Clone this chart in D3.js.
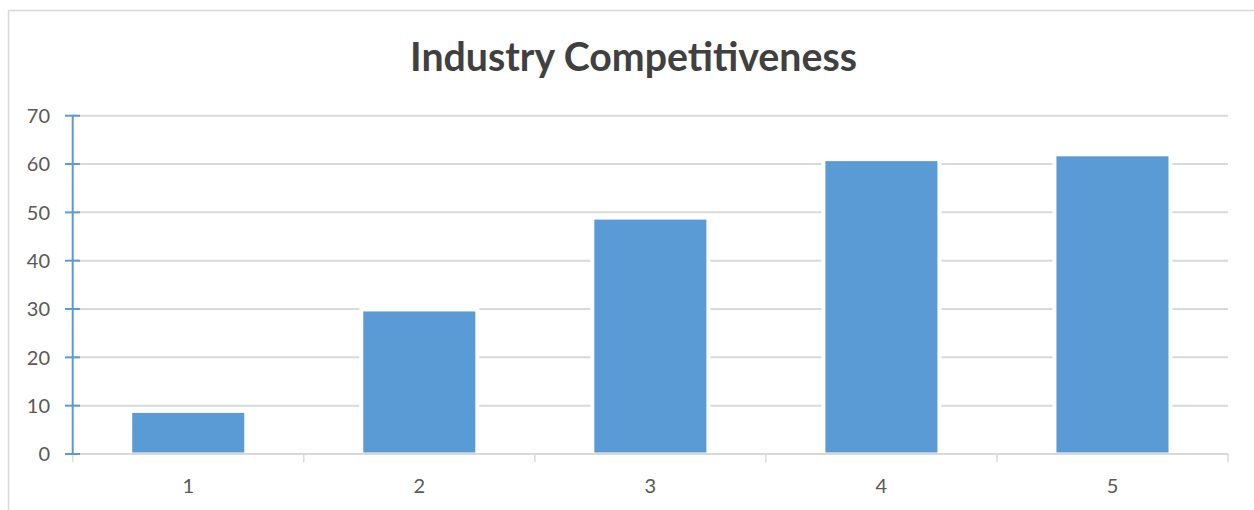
<!DOCTYPE html>
<html>
<head>
<meta charset="utf-8">
<script src="https://cdn.jsdelivr.net/npm/d3@7"></script>
<style>
  html, body { margin: 0; padding: 0; background: #fff; }
  svg { display: block; }
</style>
</head>
<body>
<script>
const categories = ["1", "2", "3", "4", "5"];
const values = [8.5, 29.5, 48.5, 60.6, 61.6];
const yTicks = [0, 10, 20, 30, 40, 50, 60, 70];
const title = "Industry Competitiveness";

const W = 1254, H = 510;
const pLeft = 72.7, pRight = 1228, pTop = 115.7, pBottom = 454;
const barColor = "#5B9BD5", gridColor = "#D9D9D9", textColor = "#595959";
const font = "Lato, 'Open Sans', sans-serif";

const svg = d3.select("body").append("svg").attr("width", W).attr("height", H);

// outer border
svg.append("rect").attr("x", 8.5).attr("y", 10.5).attr("width", W + 10).attr("height", H + 10)
  .attr("fill", "#fff").attr("stroke", gridColor).attr("stroke-width", 1.5);

const x = d3.scaleBand().domain(categories).range([pLeft, pRight]).paddingInner(0.515).paddingOuter(0.2575);
const y = d3.scaleLinear().domain([0, 70]).range([pBottom, pTop]);

// gridlines
svg.append("g").selectAll("line").data(yTicks.filter(d => d > 0)).join("line")
  .attr("x1", pLeft).attr("x2", pRight).attr("y1", d => y(d)).attr("y2", d => y(d))
  .attr("stroke", gridColor).attr("stroke-width", 2);

// bars with white halo
const bars = svg.append("g");
bars.selectAll("rect.halo").data(values).join("rect").attr("class", "halo")
  .attr("x", (d, i) => x(categories[i]) - 4).attr("width", x.bandwidth() + 8)
  .attr("y", d => y(d) - 4).attr("height", d => pBottom - y(d) + 4)
  .attr("fill", "#fff");
bars.selectAll("rect.bar").data(values).join("rect").attr("class", "bar")
  .attr("x", (d, i) => x(categories[i])).attr("width", x.bandwidth())
  .attr("y", d => y(d)).attr("height", d => pBottom - 1.5 - y(d))
  .attr("fill", barColor);

// x axis
const xa = svg.append("g");
xa.append("line").attr("x1", pLeft).attr("x2", pRight).attr("y1", pBottom).attr("y2", pBottom)
  .attr("stroke", gridColor).attr("stroke-width", 2);
const bounds = categories.map(c => x(c) - x.step() * x.paddingInner() / 2).concat([pRight]);
bounds[0] = pLeft;
xa.selectAll("line.tick").data(bounds).join("line").attr("class", "tick")
  .attr("x1", d => d).attr("x2", d => d).attr("y1", pBottom).attr("y2", pBottom + 8)
  .attr("stroke", gridColor).attr("stroke-width", 1.5);
xa.selectAll("text").data(categories).join("text")
  .attr("x", d => x(d) + x.bandwidth() / 2).attr("y", 493)
  .attr("text-anchor", "middle").attr("fill", textColor)
  .style("font-family", font).style("font-size", "20px").text(d => d);

// y axis
const ya = svg.append("g");
ya.append("line").attr("x1", pLeft).attr("x2", pLeft).attr("y1", pTop).attr("y2", pBottom)
  .attr("stroke", barColor).attr("stroke-width", 2);
ya.selectAll("line.tick").data(yTicks).join("line").attr("class", "tick")
  .attr("x1", 65).attr("x2", 80).attr("y1", d => y(d)).attr("y2", d => y(d))
  .attr("stroke", barColor).attr("stroke-width", 2);
ya.selectAll("text").data(yTicks).join("text")
  .attr("x", 50).attr("y", d => y(d)).attr("dy", "0.36em")
  .attr("text-anchor", "end").attr("fill", textColor)
  .style("font-family", font).style("font-size", "20px").text(d => d);

// title
const t = svg.append("text").attr("x", 633.5).attr("y", 71).attr("text-anchor", "middle")
  .attr("fill", "#404040").style("font-family", font).style("font-weight", "bold")
  .style("font-size", "36px").text(title);
const len = t.node().getComputedTextLength();
t.style("font-size", (36 * 447 / len).toFixed(2) + "px");
</script>
</body>
</html>
